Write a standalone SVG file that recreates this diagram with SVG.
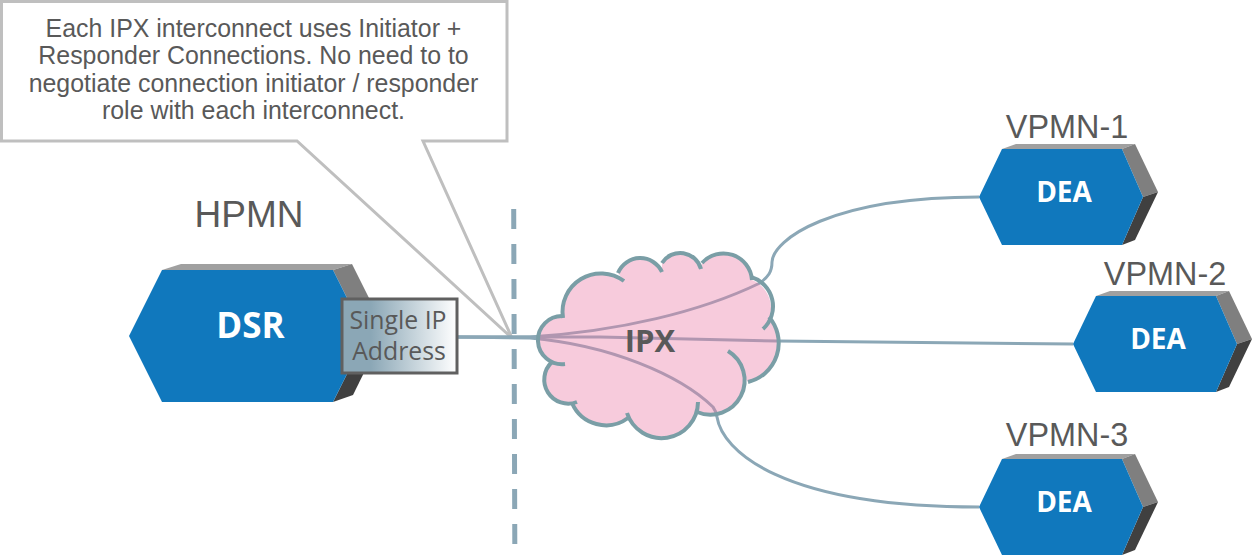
<svg xmlns="http://www.w3.org/2000/svg" width="1259" height="559" viewBox="0 0 1259 559">
<style>
.top{fill:#a0a0a0}.side{fill:#7f7f7f}.low{fill:#404040}.front{fill:#1078bd}
.conn{fill:none;stroke:#8ba7b6;stroke-width:3}
.lab{font-family:"Liberation Sans",Arial,sans-serif;fill:#595959}
.nt{font-family:"Open Sans","Noto Sans",sans-serif;font-weight:700;fill:#fff;text-anchor:middle}
.vp{font-size:32.4px}
.call{font-size:24.9px;text-anchor:middle}
.ipl{font-family:"Open Sans",sans-serif;font-size:24.8px;fill:#595959;text-anchor:middle}
</style>
<defs>
<linearGradient id="g" x1="0" x2="1" y1="0" y2="0"><stop offset="0" stop-color="#8ba7b6"/><stop offset="0.25" stop-color="#8ba7b6"/><stop offset="1" stop-color="#fff"/></linearGradient>
<g id="dea">
<polygon class="top" points="1002,149 1016,144 1135,144 1122,149"/>
<polygon class="side" points="1122,149 1135,144 1158,192 1143,197"/>
<polygon class="low" points="1143,197 1158,192 1135,240 1122,245"/>
<polygon class="front" points="979,197 1002,149 1122,149 1143,197 1122,245 1002,245"/>
<text class="nt" x="1064" y="202" font-size="28">DEA</text>
</g>
</defs>
<g id="callout">
<polygon points="1.5,1.5 507,1.5 507,141 423,141 512,338 297,141 1.5,141" fill="#fff" stroke="#bfbfbf" stroke-width="3"/>
<text class="lab call" x="253.5" y="37">Each IPX interconnect uses Initiator +</text>
<text class="lab call" x="253.5" y="64">Responder Connections. No need to to</text>
<text class="lab call" x="253.5" y="91.5">negotiate connection initiator / responder</text>
<text class="lab call" x="253.5" y="118.5">role with each interconnect.</text>
</g>
<g id="boundary"><line x1="513.7" y1="209" x2="514.8" y2="544" stroke="#8ba7b6" stroke-width="5" stroke-dasharray="20 15"/></g>
<g id="connectors">
<path class="conn" d="M458,337 L530,337 C620,331 700,312 760,283 C768,277 772,272 772,262 C773,240 830,197 979,197"/>
<path class="conn" d="M458,337 L600,337 L777,341 L1073,344"/>
<path class="conn" d="M458,337 L530,338 C610,345 680,375 713,407 Q716,411 717,417 C722,450 780,507 979,507"/>
</g>
<g id="ipx">
<path d="M563,318 A38.500,38.500 0 0 1 624,281 L618,273 A24,24 0 0 1 662,272 L662,263 A21.500,21.500 0 0 1 701,269 L702,263 A28.700,28.700 0 0 1 752,280 A30.600,30.600 0 0 1 763,329 L769,317 A40,40 0 0 1 748,382 L740,372 L728,351 A34.300,34.300 0 0 1 697,412 L698,402 A36.400,36.400 0 0 1 627,413 L628,418 A37,37 0 0 1 572,403 L577,402 A24,24 0 0 1 552,362 L565,364 A24.100,24.100 0 1 1 563,316 Z" fill="#eb7da7" fill-opacity=".4"/>
<g fill="none" stroke="#7a9ea6" stroke-width="4">
<path d="M563,318 A38.500,38.500 0 0 1 624,281"/>
<path d="M618,273 A24,24 0 0 1 662,272"/>
<path d="M662,263 A21.500,21.500 0 0 1 701,269"/>
<path d="M702,263 A28.700,28.700 0 0 1 752,280"/>
<path d="M751,277 A30.600,30.600 0 0 1 763,329"/>
<path d="M769,317 A40,40 0 0 1 748,382"/>
<path d="M728,351 A34.300,34.300 0 0 1 697,412"/>
<path d="M698,402 A36.400,36.400 0 0 1 627,413"/>
<path d="M628,418 A37,37 0 0 1 572,403"/>
<path d="M577,402 A24,24 0 0 1 552,362"/>
<path d="M565,364 A24.100,24.100 0 1 1 563,316"/>
</g>
<text x="650" y="352" font-family="'Open Sans',sans-serif" font-weight="700" font-size="31" fill="#595959" text-anchor="middle">IPX</text>
</g>
<g id="dsr">
<text class="lab" x="249" y="227" font-size="37" text-anchor="middle">HPMN</text>
<polygon class="top" points="162,270 181,264 352,264 333,270"/>
<polygon class="side" points="333,270 352,264 385,330 366,336"/>
<polygon class="low" points="366,336 385,330 353,395 333,402"/>
<polygon class="front" points="129,336 162,270 333,270 366,336 333,402 162,402"/>
<text class="nt" x="250.500" y="338" font-size="35">DSR</text>
</g>
<g id="ip">
<rect x="342" y="299" width="115" height="74" fill="url(#g)" stroke="#606060" stroke-width="3"/>
<text class="ipl" x="398" y="329">Single IP</text>
<text class="ipl" x="399" y="360">Address</text>
</g>
<g id="vpmn1"><text class="lab vp" x="1067" y="138" text-anchor="middle">VPMN-1</text><use href="#dea"/></g>
<g id="vpmn2"><text class="lab vp" x="1165" y="285" text-anchor="middle">VPMN-2</text><use href="#dea" x="94" y="147"/></g>
<g id="vpmn3"><text class="lab vp" x="1067" y="446" text-anchor="middle">VPMN-3</text><use href="#dea" y="310"/></g>
</svg>
